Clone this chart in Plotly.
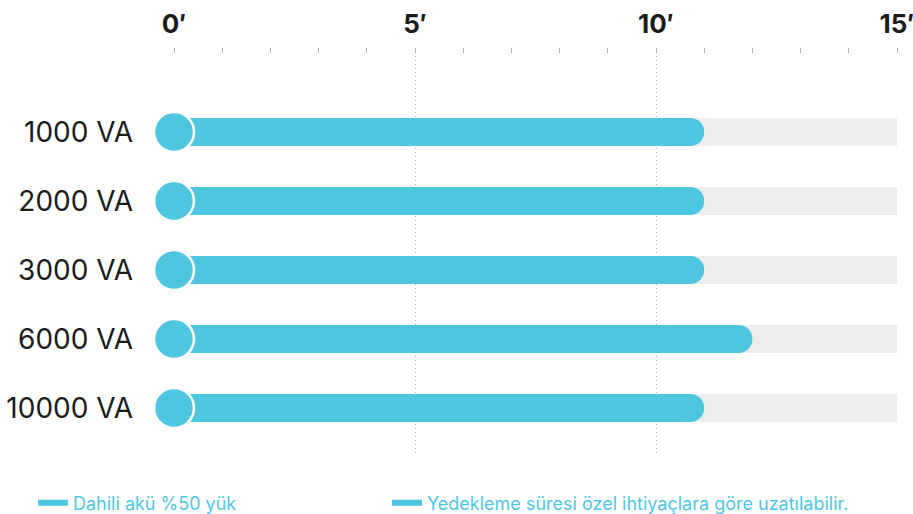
import plotly.graph_objects as go

# ---- data ----
categories = ["1000 VA", "2000 VA", "3000 VA", "6000 VA", "10000 VA"]
backup_minutes = [11, 11, 11, 12, 11]
scale_max = 15
tick_values = [0, 5, 10, 15]
tick_labels = ["0′", "5′", "10′", "15′"]
legend_names = ["Dahili akü %50 yük", "Yedekleme süresi özel ihtiyaçlara göre uzatılabilir."]

# ---- style ----
W, H = 913, 514
ML, MR, MT, MB = 174, 16, 48, 59
BLUE = "#4fc6df"
GREY = "#ebeceb"
TEXT = "#1c1c1c"
FONT = "Inter"

plot_w = W - ML - MR
plot_h = H - MT - MB
px_per_unit = plot_w / scale_max
bar_px = 28
cap_units = (bar_px / 2) / px_per_unit
cat_px = 69
bar_width = bar_px / cat_px

fig = go.Figure()

# background track
fig.add_trace(go.Bar(
    y=categories, x=[scale_max] * len(categories), base=0, orientation="h",
    width=bar_width, marker=dict(color=GREY, line=dict(width=0)),
    showlegend=False, hoverinfo="skip"))

# value bars (to start of rounded cap)
fig.add_trace(go.Bar(
    y=categories, x=[v - cap_units for v in backup_minutes], base=0, orientation="h",
    width=bar_width, marker=dict(color=BLUE, line=dict(width=0)),
    showlegend=False, hoverinfo="skip"))

# rounded caps
fig.add_trace(go.Scatter(
    y=categories, x=[v - cap_units for v in backup_minutes], mode="markers",
    marker=dict(size=bar_px, color=BLUE, line=dict(width=0)),
    showlegend=False, hoverinfo="skip"))

# start circles
fig.add_trace(go.Scatter(
    y=categories, x=[0] * len(categories), mode="markers",
    marker=dict(size=40, color=BLUE, line=dict(width=2.5, color="white")),
    showlegend=False, hoverinfo="skip", cliponaxis=False))

# legend entries (one legend each, for exact placement)
legend_left_px = [33, 387]
for i, name in enumerate(legend_names):
    fig.add_trace(go.Scatter(
        x=[None], y=[None], mode="lines", name=name,
        legend="legend" if i == 0 else "legend2",
        line=dict(color=BLUE, width=6)))

legend_y = (MT + plot_h - 503) / plot_h
legend_common = dict(
    orientation="h", xanchor="left", y=legend_y, yanchor="middle",
    font=dict(family=FONT, size=18, color=BLUE),
    bgcolor="rgba(0,0,0,0)", itemclick=False, itemdoubleclick=False)

fig.update_layout(
    width=W, height=H,
    margin=dict(l=ML, r=MR, t=MT, b=MB, pad=0, autoexpand=False),
    paper_bgcolor="white", plot_bgcolor="white",
    barmode="overlay",
    font=dict(family=FONT, color=TEXT),
    showlegend=True,
    legend=dict(x=(legend_left_px[0] - ML) / plot_w, **legend_common),
    legend2=dict(x=(legend_left_px[1] - ML) / plot_w, **legend_common),
    xaxis=dict(
        side="top", range=[0, scale_max],
        tickmode="array", tickvals=tick_values, ticktext=tick_labels,
        tickfont=dict(family=FONT, size=26, color=TEXT, weight="bold"),
        ticks="", ticklabelstandoff=9, ticklabeloverflow="allow",
        showgrid=True, gridcolor="#b0b0b0", griddash="1px,3px", gridwidth=1,
        zeroline=False, showline=False,
        minor=dict(dtick=1, tick0=0, ticks="inside", ticklen=5, tickwidth=1,
                   tickcolor="#b0b0b0", showgrid=False),
        fixedrange=True),
    yaxis=dict(
        categoryorder="array", categoryarray=categories,
        range=[4 + 47 / cat_px, -84 / cat_px],
        tickfont=dict(family=FONT, size=28, color=TEXT),
        ticks="", ticklabelstandoff=40,
        showgrid=False, zeroline=False, showline=False,
        fixedrange=True),
)

fig.write_html(
    "out.html",
    config={"displayModeBar": False},
    post_script="document.body.style.margin='0';document.body.style.overflow='hidden';",
)
